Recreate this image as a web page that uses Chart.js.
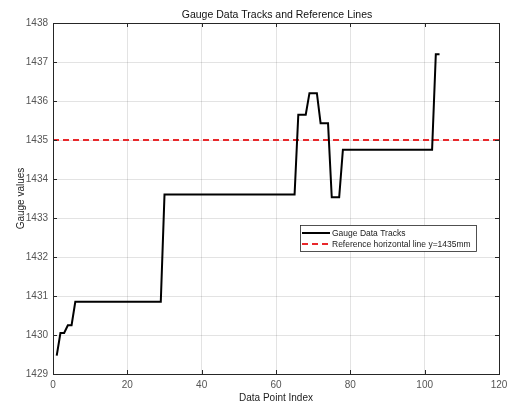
<!DOCTYPE html>
<html>
<head>
<meta charset="utf-8">
<script src="https://cdn.jsdelivr.net/npm/chart.js@4.4.1/dist/chart.umd.min.js"></script>
<style>
    body { margin: 0; background: #fff; }
    #wrap { width: 513px; height: 405px; }
</style>
</head>
<body>
<div id="wrap"><canvas id="gaugeChart" width="513" height="405"></canvas></div>
<script>
// Gauge readings, one per data point index (1..104)
const gaugeValues = [
    1429.47, 1430.05, 1430.05, 1430.25, 1430.25, 1430.85, 1430.85, 1430.85, 1430.85, 1430.85,
    1430.85, 1430.85, 1430.85, 1430.85, 1430.85, 1430.85, 1430.85, 1430.85, 1430.85, 1430.85,
    1430.85, 1430.85, 1430.85, 1430.85, 1430.85, 1430.85, 1430.85, 1430.85, 1430.85, 1433.6,
    1433.6, 1433.6, 1433.6, 1433.6, 1433.6, 1433.6, 1433.6, 1433.6, 1433.6, 1433.6,
    1433.6, 1433.6, 1433.6, 1433.6, 1433.6, 1433.6, 1433.6, 1433.6, 1433.6, 1433.6,
    1433.6, 1433.6, 1433.6, 1433.6, 1433.6, 1433.6, 1433.6, 1433.6, 1433.6, 1433.6,
    1433.6, 1433.6, 1433.6, 1433.6, 1433.6, 1435.65, 1435.65, 1435.65, 1436.2, 1436.2,
    1436.2, 1435.43, 1435.43, 1435.43, 1433.53, 1433.53, 1433.53, 1434.75, 1434.75, 1434.75,
    1434.75, 1434.75, 1434.75, 1434.75, 1434.75, 1434.75, 1434.75, 1434.75, 1434.75, 1434.75,
    1434.75, 1434.75, 1434.75, 1434.75, 1434.75, 1434.75, 1434.75, 1434.75, 1434.75, 1434.75,
    1434.75, 1434.75, 1437.2, 1437.2
];
const refX = [0, 120];
const refValue = 1435;
const xTicks = [0, 20, 40, 60, 80, 100, 120];
const yTicks = [1429, 1430, 1431, 1432, 1433, 1434, 1435, 1436, 1437, 1438];

const axisColor = '#262626';
const font = 'Liberation Sans, Arial, Helvetica, sans-serif';

// box, inward ticks, title and legend drawn MATLAB style
const matlabFrame = {
    id: 'matlabFrame',
    afterDraw(chart) {
        const ctx = chart.ctx;
        const a = chart.chartArea;
        const xs = chart.scales.x, ys = chart.scales.y;
        ctx.save();
        ctx.strokeStyle = axisColor;
        ctx.lineWidth = 1;
        ctx.strokeRect(a.left + 0.5, a.top + 0.5, a.right - a.left, a.bottom - a.top);
        ctx.beginPath();
        xTicks.forEach(v => {
            const px = Math.round(xs.getPixelForValue(v)) + 0.5;
            ctx.moveTo(px, a.bottom); ctx.lineTo(px, a.bottom - 4);
            ctx.moveTo(px, a.top); ctx.lineTo(px, a.top + 4);
        });
        yTicks.forEach(v => {
            const py = Math.round(ys.getPixelForValue(v)) + 0.5;
            ctx.moveTo(a.left, py); ctx.lineTo(a.left + 4, py);
            ctx.moveTo(a.right, py); ctx.lineTo(a.right - 4, py);
        });
        ctx.stroke();

        // title
        ctx.fillStyle = '#111';
        ctx.font = '10.5px ' + font;
        ctx.textAlign = 'center';
        ctx.textBaseline = 'middle';
        ctx.fillText('Gauge Data Tracks and Reference Lines', (a.left + a.right) / 2 + 1, 15);

        // legend
        const lx = 300, ly = 225, lw = 176, lh = 26;
        ctx.fillStyle = '#fff';
        ctx.fillRect(lx, ly, lw, lh);
        ctx.strokeStyle = axisColor;
        ctx.lineWidth = 0.8;
        ctx.strokeRect(lx + 0.5, ly + 0.5, lw, lh);
        ctx.font = '8.5px ' + font;
        ctx.textAlign = 'left';
        chart.data.datasets.forEach((ds, i) => {
            const y = ly + 8 + i * 11;
            ctx.beginPath();
            ctx.strokeStyle = ds.borderColor;
            ctx.lineWidth = ds.borderWidth;
            ctx.setLineDash(ds.borderDash || []);
            ctx.moveTo(lx + 2, y);
            ctx.lineTo(lx + 30, y);
            ctx.stroke();
            ctx.setLineDash([]);
            ctx.fillStyle = '#222';
            ctx.fillText(ds.label, lx + 32, y + 0.5);
        });
        ctx.restore();
    }
};

const ctx = document.getElementById('gaugeChart').getContext('2d');
new Chart(ctx, {
    type: 'line',
    data: {
        datasets: [
            {
                label: 'Gauge Data Tracks',
                data: gaugeValues.map((v, i) => ({ x: i + 1, y: v })),
                borderColor: '#000',
                borderWidth: 2,
                pointRadius: 0,
                tension: 0
            },
            {
                label: 'Reference horizontal line y=1435mm',
                data: refX.map(x => ({ x: x, y: refValue })),
                borderColor: '#e8282b',
                borderWidth: 2,
                borderDash: [6, 4],
                pointRadius: 0
            }
        ]
    },
    options: {
        responsive: false,
        animation: false,
        layout: { padding: { top: 23, right: 14, left: 0, bottom: 0 } },
        plugins: {
            legend: { display: false },
            title: { display: false },
            tooltip: { enabled: false }
        },
        scales: {
            x: {
                type: 'linear',
                min: 0,
                max: 120,
                afterFit: s => { s.height = 31; },
                afterBuildTicks: s => { s.ticks = xTicks.map(v => ({ value: v })); },
                grid: { color: 'rgba(38,38,38,0.13)', drawTicks: false },
                border: { display: false },
                ticks: { padding: 5, color: '#555', font: { family: font, size: 10 }, maxRotation: 0, callback: v => String(v) },
                title: { display: true, text: 'Data Point Index', color: '#222', font: { family: font, size: 10 }, padding: { top: 0, bottom: 1 } }
            },
            y: {
                min: 1429,
                max: 1438,
                afterFit: s => { s.width = 53; },
                afterBuildTicks: s => { s.ticks = yTicks.map(v => ({ value: v })); },
                grid: { color: 'rgba(38,38,38,0.13)', drawTicks: false },
                border: { display: false },
                ticks: { padding: 5, color: '#555', font: { family: font, size: 10 }, callback: v => String(v) },
                title: { display: true, text: 'Gauge values', color: '#222', font: { family: font, size: 10 }, padding: { top: 15, bottom: 0 } }
            }
        }
    },
    plugins: [matlabFrame]
});
</script>
</body>
</html>
